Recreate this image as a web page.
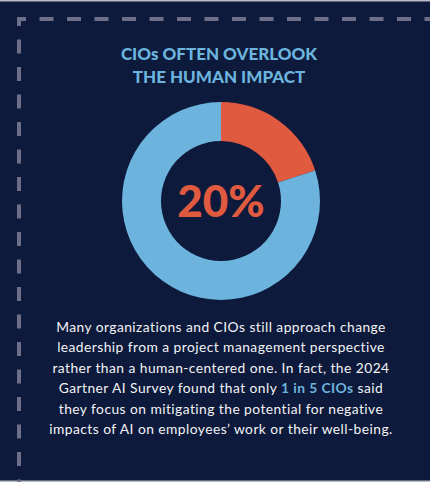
<!DOCTYPE html>
<html>
<head>
<meta charset="utf-8">
<script src="https://cdn.jsdelivr.net/npm/d3@7"></script>
<style>
  html, body { margin: 0; padding: 0; background: #0d1a3b; }
  svg { display: block; }
</style>
</head>
<body>
<div id="main-chart"></div>
<script>
// Share of CIOs who focus on mitigating negative AI impacts on employees
var segments = ["Focus on human impact", "Other"];
var segmentValues = [20, 80];
var segmentColors = ["#e05a40", "#6cb4de"];
var centerLabel = "20%";

var titleLines = ["CIOs OFTEN OVERLOOK", "THE HUMAN IMPACT"];

// body copy, each line is a list of [text, highlighted?]
var bodyLines = [
  [["Many organizations and CIOs still approach change", false]],
  [["leadership from a project management perspective", false]],
  [["rather than a human-centered one. In fact, the 2024", false]],
  [["Gartner AI Survey found that only ", false], ["1 in 5 CIOs", true], [" said", false]],
  [["they focus on mitigating the potential for negative", false]],
  [["impacts of AI on employees\u2019 work or their well-being.", false]]
];

var width = 430,
  height = 482;

var svg = d3
  .select("#main-chart")
  .append("svg")
  .attr("width", width)
  .attr("height", height);

// background
svg
  .append("rect")
  .attr("width", width)
  .attr("height", height)
  .attr("fill", "#0d1a3b");

// thin light frame at top and bottom
svg.append("rect").attr("x", 0).attr("y", 0).attr("width", width).attr("height", 1.5).attr("fill", "#b9bcc6");
svg.append("rect").attr("x", 0).attr("y", height - 1.5).attr("width", width).attr("height", 1.5).attr("fill", "#b9bcc6");

// dashed corner frame (dash centred on the corner)
svg
  .append("path")
  .attr("d", "M19," + height + " V19 H" + width)
  .attr("fill", "none")
  .attr("stroke", "#6c6f87")
  .attr("stroke-width", 4)
  .attr("stroke-dasharray", "14 13.5")
  .attr("stroke-dashoffset", 11.5);

// title
svg
  .append("g")
  .selectAll("text")
  .data(titleLines)
  .enter()
  .append("text")
  .attr("x", 219)
  .attr("y", function(d, i) {
    return 59.5 + i * 23.5;
  })
  .attr("text-anchor", "middle")
  .style("font-family", "Lato, 'Open Sans', sans-serif")
  .style("font-weight", 900)
  .style("font-size", "17px")
  .attr("fill", "#6cb4de")
  .text(function(d) {
    return d;
  });

// donut
var cx = 221,
  cy = 201,
  outerR = 99,
  innerR = 60;

var pie = d3
  .pie()
  .sort(null)
  .value(function(d) {
    return d;
  });

var arc = d3
  .arc()
  .innerRadius(innerR)
  .outerRadius(outerR);

var donut = svg
  .append("g")
  .attr("transform", "translate(" + cx + "," + cy + ")");

donut
  .selectAll("path")
  .data(pie(segmentValues))
  .enter()
  .append("path")
  .attr("d", arc)
  .attr("fill", function(d, i) {
    return segmentColors[i];
  })
  .append("title")
  .text(function(d, i) {
    return segments[i] + ": " + segmentValues[i] + "%";
  });

donut
  .append("text")
  .attr("x", 0)
  .attr("y", 16)
  .attr("text-anchor", "middle")
  .style("font-family", "Lato, 'Open Sans', sans-serif")
  .style("font-weight", 900)
  .style("font-size", "44px")
  .attr("fill", "#e05a40")
  .text(centerLabel);

// body copy
var body = svg
  .append("text")
  .attr("text-anchor", "middle")
  .style("font-family", "Lato, 'Open Sans', sans-serif")
  .style("font-size", "13.8px")
  .style("letter-spacing", "0.45px")
  .attr("fill", "#f2f3f6");

bodyLines.forEach(function(line, i) {
  var row = body
    .append("tspan")
    .attr("x", 221)
    .attr("y", 331.5 + i * 20.5);
  line.forEach(function(part) {
    row
      .append("tspan")
      .attr("fill", part[1] ? "#6cb4de" : "#f2f3f6")
      .style("font-weight", part[1] ? 700 : 400)
      .text(part[0]);
  });
});
</script>
</body>
</html>
